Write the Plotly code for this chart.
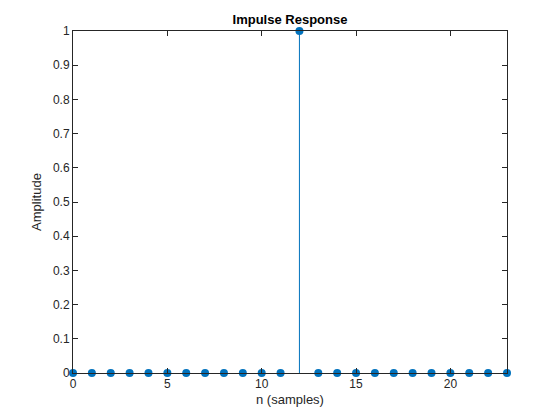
import plotly.graph_objects as go

# impulse response samples
n = list(range(24))
h = [0] * 24
h[12] = 1

x_ticks = [0, 5, 10, 15, 20]
y_ticks = [round(0.1 * i, 1) for i in range(11)]

STEM = "#0072BD"
AX = "#262626"
FONT = "Liberation Sans, Arial"

# stems: vertical segments from 0 to each value
sx, sy = [], []
for xi, yi in zip(n, h):
    sx += [xi, xi, None]
    sy += [0, yi, None]

fig = go.Figure()
fig.add_trace(go.Scatter(x=sx, y=sy, mode="lines",
                         line=dict(color=STEM, width=1), hoverinfo="skip",
                         showlegend=False, cliponaxis=False))
fig.add_trace(go.Scatter(x=n, y=h, mode="markers",
                         marker=dict(color=STEM, size=8, line=dict(width=0)),
                         showlegend=False, cliponaxis=False))

axis_common = dict(
    showgrid=False, zeroline=False, showline=True, linecolor=AX, linewidth=1,
    mirror="ticks", ticks="inside", ticklen=5, tickcolor=AX,
    tickfont=dict(family=FONT, size=12, color=AX),
)

# page body has an 8px margin, so the margins below account for that shift
fig.update_layout(
    width=560, height=420,
    margin=dict(l=65, r=61, t=23, b=55),
    paper_bgcolor="white", plot_bgcolor="white",
    title=dict(text="<b>Impulse Response</b>", x=(65 + 434 / 2) / 560, xanchor="center",
               y=1 - 11 / 420, yanchor="middle",
               font=dict(family=FONT, size=13, color="black")),
    xaxis=dict(range=[0, 23], tickvals=x_ticks,
               title=dict(text="n (samples)", standoff=4,
                          font=dict(family=FONT, size=13, color=AX)),
               **axis_common),
    yaxis=dict(range=[0, 1], tickvals=y_ticks, ticktext=[f"{v:g}" for v in y_ticks],
               title=dict(text="Amplitude", standoff=8,
                          font=dict(family=FONT, size=13, color=AX)),
               **axis_common),
)

fig.write_html("out.html")
